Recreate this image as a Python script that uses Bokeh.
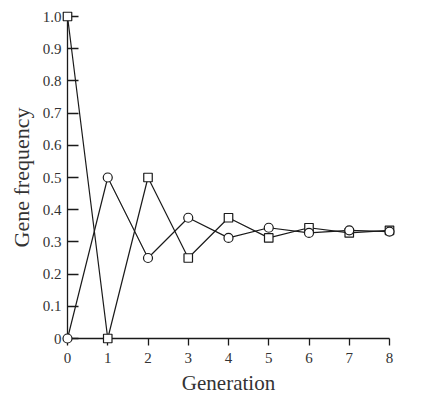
from bokeh.plotting import figure
from bokeh.models import FixedTicker, Range1d, ColumnDataSource
from bokeh.embed import file_html
from bokeh.resources import INLINE

generation = [0, 1, 2, 3, 4, 5, 6, 7, 8]
freq_circle = [0.0, 0.5, 0.25, 0.375, 0.3125, 0.344, 0.328, 0.336, 0.332]
freq_square = [1.0, 0.0, 0.5, 0.25, 0.375, 0.3125, 0.344, 0.328, 0.336]
y_ticks = [0, 0.1, 0.2, 0.3, 0.4, 0.5, 0.6, 0.7, 0.8, 0.9, 1.0]
y_tick_labels = ["0", "0.1", "0.2", "0.3", "0.4", "0.5", "0.6", "0.7", "0.8", "0.9", "1.0"]
x_ticks = [0, 1, 2, 3, 4, 5, 6, 7, 8]

FONT = "Liberation Serif"
TXT = "#333333"
LINE = "#1a1a1a"

p = figure(width=428, height=397, output_backend="svg", toolbar_location=None,
           x_range=Range1d(0, 8), y_range=Range1d(0, 1.0),
           min_border_left=67, min_border_right=39, min_border_top=16, min_border_bottom=58)
p.outline_line_color = None
p.grid.visible = False
p.background_fill_color = "white"
p.border_fill_color = "white"

src_c = ColumnDataSource(dict(x=generation, y=freq_circle))
src_s = ColumnDataSource(dict(x=generation, y=freq_square))

p.line("x", "y", source=src_s, line_color=LINE, line_width=1.2)
p.line("x", "y", source=src_c, line_color=LINE, line_width=1.2)
r1 = p.scatter("x", "y", source=src_s, marker="square", size=8.5, fill_color="white",
               line_color=LINE, line_width=1.2)
r2 = p.scatter("x", "y", source=src_c, marker="circle", size=9, fill_color="white",
               line_color=LINE, line_width=1.2)
r1.level = "overlay"
r2.level = "overlay"

xa = p.xaxis[0]
xa.ticker = FixedTicker(ticks=x_ticks)
xa.major_tick_in = 0
xa.major_tick_out = 7
xa.minor_tick_in = 0
xa.minor_tick_out = 0
xa.major_label_standoff = 7
xa.axis_label = "Generation"
xa.axis_label_standoff = 5

ya = p.yaxis[0]
ya.ticker = FixedTicker(ticks=y_ticks)
ya.major_label_overrides = {t: l for t, l in zip(y_ticks, y_tick_labels)}
ya.major_tick_in = 11
ya.major_tick_out = 0
ya.minor_tick_in = 0
ya.minor_tick_out = 0
ya.major_label_standoff = 6
ya.axis_label = "Gene frequency"
ya.axis_label_standoff = 6

for ax in (xa, ya):
    ax.axis_line_color = LINE
    ax.axis_line_width = 1.3
    ax.major_tick_line_color = LINE
    ax.major_tick_line_width = 1.3
    ax.major_label_text_font = FONT
    ax.major_label_text_font_size = "15px"
    ax.major_label_text_color = TXT
    ax.axis_label_text_font = FONT
    ax.axis_label_text_font_style = "normal"
    ax.axis_label_text_color = TXT
xa.axis_label_text_font_size = "21px"
ya.axis_label_text_font_size = "22px"

open("out.html", "w").write(file_html(p, INLINE))
